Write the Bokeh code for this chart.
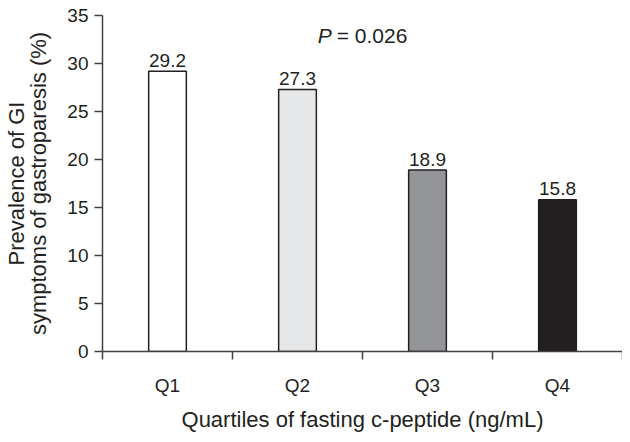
from bokeh.plotting import figure
from bokeh.models import Range1d, FixedTicker, Label, ColumnDataSource, LinearAxis
from bokeh.core.properties import value
from bokeh.embed import file_html
from bokeh.resources import INLINE

categories = ["Q1", "Q2", "Q3", "Q4"]
prevalence = [29.2, 27.3, 18.9, 15.8]
bar_colors = ["#ffffff", "#e6e7e8", "#939598", "#231f20"]
y_ticks = [0, 5, 10, 15, 20, 25, 30, 35]
p_text = "P"
p_value_text = "= 0.026"
x_title = "Quartiles of fasting c-peptide (ng/mL)"
y_title_1 = "Prevalence of GI"
y_title_2 = "symptoms of gastroparesis (%)"

FONT = "Liberation Sans"
INK = "#231f20"
AXIS = "#414042"

pos = [i + 0.5 for i in range(len(categories))]
src = ColumnDataSource(dict(x=pos, top=prevalence, color=bar_colors,
                            label=[f"{v:.1f}" for v in prevalence]))

p = figure(width=622, height=434, output_backend="svg", toolbar_location=None,
           x_range=Range1d(0, len(categories)), y_range=Range1d(0, 35),
           min_border_left=98, min_border_right=0, min_border_top=15,
           min_border_bottom=68)
p.outline_line_color = None
p.xgrid.visible = False
p.ygrid.visible = False
p.background_fill_color = "white"
p.border_fill_color = "white"

p.vbar(x="x", top="top", width=0.29, source=src, fill_color="color",
       line_color=INK, line_width=1.5)
p.text(x="x", y="top", text="label", source=src, y_offset=-11,
       text_align="center", text_baseline="alphabetic",
       text_font=value(FONT), text_font_size="19px", text_color=INK)

# y axis
ya = p.yaxis[0]
ya.ticker = FixedTicker(ticks=y_ticks)
ya.axis_line_color = AXIS
ya.axis_line_width = 1.5
ya.major_tick_line_color = AXIS
ya.major_tick_line_width = 1.5
ya.major_tick_out = 8
ya.major_tick_in = 0
ya.minor_tick_out = 0
ya.minor_tick_in = 0
ya.major_label_standoff = 6
ya.major_label_text_font = FONT
ya.major_label_text_font_size = "19px"
ya.major_label_text_color = INK
ya.axis_label = y_title_2
ya.axis_label_standoff = 13
ya.axis_label_text_font = FONT
ya.axis_label_text_font_size = "22px"
ya.axis_label_text_font_style = "normal"
ya.axis_label_text_color = INK

# outer title line as a bare axis holding only its label
ya2 = LinearAxis(ticker=FixedTicker(ticks=[]), axis_line_color=None,
                 major_tick_line_color=None, minor_tick_line_color=None,
                 major_tick_out=0, major_tick_in=0, minor_tick_out=0,
                 minor_tick_in=0, major_label_standoff=0,
                 axis_label=y_title_1, axis_label_standoff=-5,
                 axis_label_text_font=FONT, axis_label_text_font_size="22px",
                 axis_label_text_font_style="normal", axis_label_text_color=INK)
p.add_layout(ya2, "left")

# x axis
xa = p.xaxis[0]
xa.ticker = FixedTicker(ticks=pos, minor_ticks=list(range(len(categories) + 1)))
xa.major_label_overrides = {pv: c for pv, c in zip(pos, categories)}
xa.axis_line_color = AXIS
xa.axis_line_width = 1.5
xa.major_tick_out = 0
xa.major_tick_in = 0
xa.minor_tick_out = 8
xa.minor_tick_in = 0
xa.minor_tick_line_color = AXIS
xa.minor_tick_line_width = 1.5
xa.major_label_standoff = 15
xa.major_label_text_font = FONT
xa.major_label_text_font_size = "19px"
xa.major_label_text_color = INK
xa.axis_label = x_title
xa.axis_label_standoff = 8
xa.axis_label_text_font = FONT
xa.axis_label_text_font_size = "22px"
xa.axis_label_text_font_style = "normal"
xa.axis_label_text_color = INK

# P value
py = 35 - (44 - 23) / 10.0
p.add_layout(Label(x=(323 - 106) / 131.0, y=py, text=p_text,
                   text_font=FONT, text_font_size="21px", text_font_style="italic",
                   text_color=INK, text_baseline="alphabetic", text_align="left"))
p.add_layout(Label(x=(342 - 106) / 131.0, y=py, text=p_value_text,
                   text_font=FONT, text_font_size="21px",
                   text_color=INK, text_baseline="alphabetic", text_align="left"))

open("out.html", "w").write(file_html(p, INLINE))
